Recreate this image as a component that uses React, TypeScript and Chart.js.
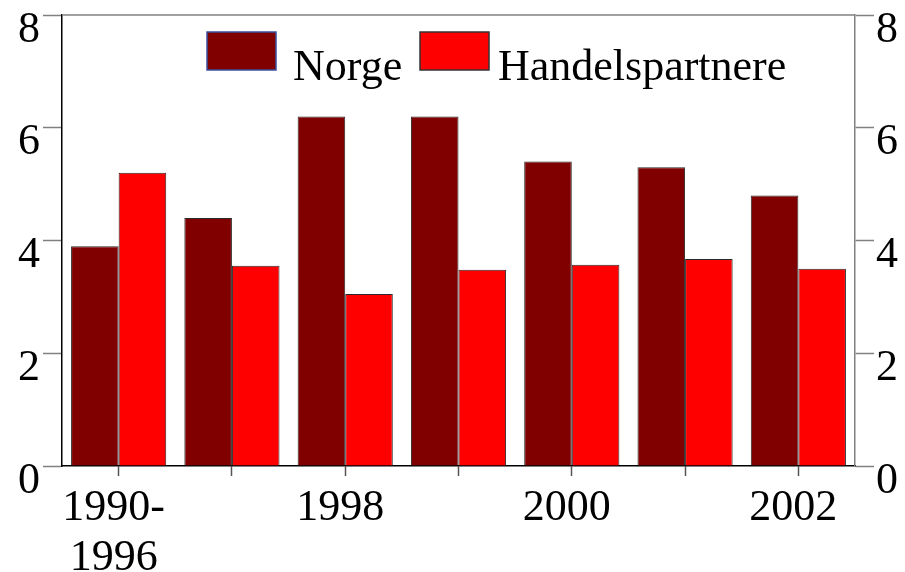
import React, { useEffect, useRef } from "react";
import { Chart, registerables } from "chart.js";

Chart.register(...registerables);

const categories = ["1990-1996", "1997", "1998", "1999", "2000", "2001", "2002"];
const xTickLabels: (string | string[])[] = [["1990-", "1996"], "", "1998", "", "2000", "", "2002"];
const norge = [3.9, 4.4, 6.2, 6.2, 5.4, 5.3, 4.8];
const handelspartnere = [5.2, 3.55, 3.05, 3.48, 3.57, 3.67, 3.5];
const yTicks = [0, 2, 4, 6, 8];

const FONT = "'Liberation Serif', 'Times New Roman', serif";

const legendBorders = ["#3a52a0", "#333333"];

const insideLegend = {
  id: "insideLegend",
  afterDraw(chart: any) {
    const { ctx, chartArea } = chart;
    ctx.save();
    // top frame line
    ctx.strokeStyle = "#808080";
    ctx.lineWidth = 1.5;
    ctx.beginPath();
    ctx.moveTo(chartArea.left, chartArea.top);
    ctx.lineTo(chartArea.right, chartArea.top);
    ctx.stroke();

    ctx.font = `44px ${FONT}`;
    ctx.textBaseline = "alphabetic";
    ctx.textAlign = "left";
    const boxW = 69;
    const boxH = 38;
    const boxY = chartArea.top + 17;
    const starts = [chartArea.left + 145, chartArea.left + 358];
    let prevEnd = 0;
    chart.data.datasets.forEach((ds: any, i: number) => {
      const bx = Math.max(starts[i], prevEnd + 8);
      ctx.fillStyle = ds.backgroundColor;
      ctx.fillRect(bx, boxY, boxW, boxH);
      ctx.strokeStyle = legendBorders[i];
      ctx.lineWidth = 1.5;
      ctx.strokeRect(bx, boxY, boxW, boxH);
      const tx = bx + boxW + (i === 0 ? 17 : 9);
      ctx.fillStyle = "#000";
      ctx.fillText(ds.label, tx, chartArea.top + 65);
      prevEnd = tx + ctx.measureText(ds.label).width;
    });
    ctx.restore();
  },
};

function yFit(width: number) {
  return (s: any) => {
    s.width = width;
    s.paddingTop = 0;
    s.paddingBottom = 0;
  };
}

export default function App() {
  const ref = useRef<HTMLCanvasElement>(null);
  useEffect(() => {
    if (!ref.current) return;
    const chart = new Chart(ref.current, {
      type: "bar",
      data: {
        labels: categories,
        datasets: [
          {
            label: "Norge",
            data: norge,
            backgroundColor: "#800000",
            borderColor: "#2a2a2a",
            borderWidth: 1,
            yAxisID: "y",
          },
          {
            label: "Handelspartnere",
            data: handelspartnere,
            backgroundColor: "#ff0000",
            borderColor: "#2a2a2a",
            borderWidth: 1,
            yAxisID: "y",
          },
        ],
      },
      options: {
        responsive: false,
        animation: false,
        devicePixelRatio: 1,
        layout: { padding: { top: 15, left: 0, right: 0, bottom: 0 } },
        datasets: { bar: { categoryPercentage: 0.84, barPercentage: 1 } },
        plugins: {
          legend: { display: false },
          tooltip: { enabled: false },
        },
        scales: {
          x: {
            type: "category",
            position: "bottom",
            offset: true,
            grid: {
              offset: false,
              drawOnChartArea: false,
              drawTicks: true,
              tickLength: 10,
              tickColor: "#555",
              tickWidth: 1.5,
            },
            border: { display: true, color: "#000", width: 1.5 },
            ticks: {
              autoSkip: false,
              maxRotation: 0,
              minRotation: 0,
              padding: 8,
              labelOffset: -5,
              color: "#000",
              font: { family: FONT, size: 44, lineHeight: 1.13 },
              callback: (_v: any, i: number) => xTickLabels[i],
            },
            afterFit: (s: any) => {
              s.height = 106;
              s.paddingLeft = 0;
              s.paddingRight = 0;
            },
          },
          y: {
            position: "left",
            min: 0,
            max: 8,
            afterBuildTicks: (s: any) => {
              s.ticks = yTicks.map((v) => ({ value: v }));
            },
            grid: {
              drawOnChartArea: false,
              drawTicks: true,
              tickLength: 19,
              tickColor: "#808080",
              tickWidth: 1.5,
            },
            border: { display: true, color: "#000", width: 1.5 },
            ticks: {
              padding: 3,
              labelOffset: 15,
              color: "#000",
              font: { family: FONT, size: 44 },
            },
            afterFit: yFit(62),
          },
          y2: {
            position: "right",
            min: 0,
            max: 8,
            afterBuildTicks: (s: any) => {
              s.ticks = yTicks.map((v) => ({ value: v }));
            },
            grid: {
              drawOnChartArea: false,
              drawTicks: true,
              tickLength: 19,
              tickColor: "#808080",
              tickWidth: 1.5,
            },
            border: { display: true, color: "#808080", width: 1.5 },
            ticks: {
              padding: 2,
              labelOffset: 15,
              color: "#000",
              font: { family: FONT, size: 44 },
            },
            afterFit: yFit(50),
          },
        },
      } as any,
      plugins: [insideLegend],
    });
    return () => chart.destroy();
  }, []);
  return (
    <div style={{ position: "fixed", left: 0, top: 0, width: 905, height: 572, background: "#fff" }}>
      <canvas ref={ref} width={905} height={572} style={{ display: "block" }} />
    </div>
  );
}
